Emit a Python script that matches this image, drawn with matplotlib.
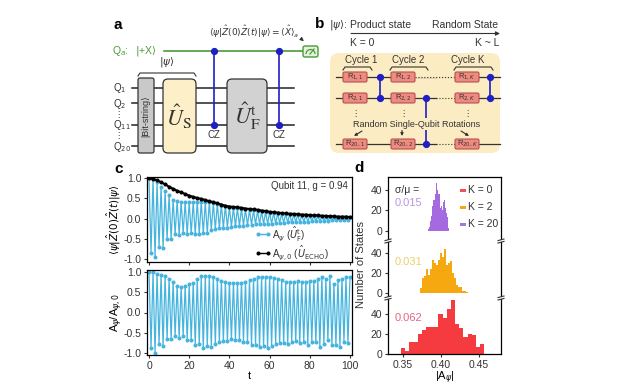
import matplotlib
matplotlib.use('Agg')
import matplotlib.pyplot as plt
from matplotlib.patches import FancyBboxPatch, Rectangle, Arc
import numpy as np

plt.rcParams['font.family'] = ['Liberation Sans', 'DejaVu Sans']
plt.rcParams['mathtext.fontset'] = 'dejavusans'

# panel c, upper: even t (top envelope), odd t (bottom envelope), echo
c_top = [1.0, .97, .9, .78, .68, .58, .47, .44, .42, .41, .41, .41, .42, .42, .41, .41, .39,
         .37, .35, .32, .29, .27, .26, .25, .23, .22, .21, .2, .18, .17, .15, .14, .13, .12,
         .11, .11, .1, .09, .08, .08, .07, .07, .06, .06, .05, .05, .04, .04, .03, .03, .03]
c_bot = [-.84, -.94, -.69, -.73, -.49, -.49, -.38, -.4, -.35, -.38, -.36, -.39, -.37, -.36,
         -.35, -.28, -.26, -.24, -.23, -.22, -.2, -.19, -.18, -.17, -.16, -.15, -.14, -.13,
         -.13, -.12, -.12, -.11, -.1, -.1, -.09, -.09, -.08, -.08, -.07, -.07, -.06, -.06,
         -.05, -.05, -.05, -.04, -.04, -.03, -.03, -.03]
echo = [1.0, .98, .95, .9, .85, .79, .74, .69, .65, .61, .57, .54, .51, .49, .46, .43, .41,
        .38, .35, .32, .3, .29, .28, .27, .25, .24, .23, .22, .2, .19, .17, .16, .15, .14,
        .13, .12, .12, .11, .1, .1, .09, .08, .08, .07, .07, .06, .06, .05, .05, .05, .04]

# panel c, lower: ratio
r_top = [1.0, .99, .96, .93, .9, .83, .76, .66, .64, .66, .7, .74, .82, .89, .9, .9, .87,
         .82, .78, .76, .74, .73, .72, .74, .76, .8, .83, .87, .88, .87, .87, .85, .84, .8,
         .75, .76, .76, .77, .76, .76, .78, .77, .83, .87, .83, .9, .7, .8, .84, .87, .87]
r_bot = [-.88, -1.0, -.78, -.82, -.65, -.66, -.57, -.62, -.58, -.68, -.68, -.8, -.78, -.88,
         -.82, -.85, -.77, -.73, -.7, -.7, -.66, -.68, -.68, -.72, -.73, -.8, -.8, -.85,
         -.83, -.87, -.83, -.78, -.76, -.76, -.78, -.73, -.71, -.76, -.72, -.8, -.72, -.74,
         -.85, -.78, -.68, -.8, -.8, -.85, -.72, -.76]

# panel d histograms
k0_start, k0_width = 0.3474, 0.0055
k0_counts = [6, 3, 12, 12, 20, 24, 27, 27, 27, 40, 36, 45, 54, 30, 26, 17, 20, 19, 7, 10]
k2_start, k2_width = 0.3725, 0.00265
k2_counts = [5, 15, 17, 24, 18, 24, 33, 30, 28, 33, 40, 36, 44, 28, 30, 32, 20, 15, 8, 6, 6, 2, 2, 1]
k20_start, k20_width = 0.3827, 0.00132
k20_counts = [2, 4, 10, 15, 24, 30, 30, 36, 47, 40, 36, 36, 22, 24, 20, 28, 30, 22, 18, 14, 3]

W, H = 640, 392
BLUE = '#45b4de'
NAVY = '#1f1fc4'
GREEN = '#4c9a3c'
DARK = '#333333'

fig = plt.figure(figsize=(6.4, 3.92), dpi=100)


def add_ax(x0, x1, y0, y1, **kw):
    return fig.add_axes([x0 / W, 1 - y1 / H, (x1 - x0) / W, (y1 - y0) / H], **kw)


def alternate(top, bot):
    vals = np.zeros(len(top) + len(bot))
    vals[0::2] = top
    vals[1::2] = bot
    return vals


t_all = np.arange(101)
t_even = np.arange(0, 101, 2)

# panel c
ax1 = add_ax(147, 352, 177, 262)
ax1.plot(t_all, alternate(c_top, c_bot), color=BLUE, lw=0.9, marker='o', ms=1.9)
ax1.plot(t_even, echo, color='black', lw=1.5, marker='o', ms=1.9)
ax1.set_xlim(-1, 101)
ax1.set_ylim(-1.07, 1.03)
ax1.set_xticks(range(0, 101, 20))
ax1.set_xticklabels([])
ax1.set_yticks([-1, -.5, 0, .5, 1])
ax1.set_yticklabels(['-1.0', '-0.5', '0.0', '0.5', '1.0'])
ax1.set_ylabel(r'$\langle\psi|\hat{Z}(0)\hat{Z}(t)|\psi\rangle$', fontsize=7.5, labelpad=0.5)

ax2 = add_ax(147, 352, 270, 355)
ax2.plot(t_all, alternate(r_top, r_bot), color=BLUE, lw=0.9, marker='o', ms=1.9)
ax2.set_xlim(-1, 101)
ax2.set_ylim(-1.05, 1.05)
ax2.set_xticks(range(0, 101, 20))
ax2.set_yticks([-1, -.5, 0, .5, 1])
ax2.set_yticklabels(['-1.0', '-0.5', '0.0', '0.5', '1.0'])
ax2.set_xlabel('t', fontsize=8, labelpad=0)
ax2.set_ylabel(r'A$_{\psi}$/A$_{\psi,0}$', fontsize=8, labelpad=-1)

for ax in (ax1, ax2):
    ax.tick_params(labelsize=7.5, length=2.5, width=0.8, pad=1.5, colors=DARK)
    for s in ax.spines.values():
        s.set_linewidth(0.9)

# panel d, three stacked histograms sharing one x range
xlim_d = (0.3302, 0.4796)
hist_axes = []
for y0, y1, ylim, start, width, counts, col in [
        (177, 241, (-9.8, 52.7), k20_start, k20_width, k20_counts, '#a56ae0'),
        (241, 298, (-5, 52), k2_start, k2_width, k2_counts, '#f5a80f'),
        (298, 354, (0, 56), k0_start, k0_width, k0_counts, '#f53a40')]:
    ax = add_ax(388, 501, y0, y1)
    ax.bar(start + width * np.arange(len(counts)), counts, width=width, align='edge',
           color=col, lw=0)
    ax.set_xlim(*xlim_d)
    ax.set_ylim(*ylim)
    ax.set_yticks([0, 20, 40])
    ax.spines['top'].set_visible(False)
    ax.spines['bottom'].set_visible(False)
    ax.tick_params(labelsize=7.5, length=2.5, width=0.8, pad=1.5, colors=DARK)
    ax.set_xticks([])
    ax.patch.set_alpha(0)
    for s in ax.spines.values():
        s.set_linewidth(0.9)
    hist_axes.append(ax)
hist_axes[0].spines['top'].set_visible(True)
hist_axes[2].spines['bottom'].set_visible(True)
hist_axes[2].set_xticks([.35, .40, .45])
hist_axes[2].set_xticklabels(['0.35', '0.40', '0.45'])
hist_axes[2].set_xlabel(r'|A$_{\psi}$|', fontsize=8, labelpad=0)

# overlay in pixel coordinates for the schematics and annotations
ov = fig.add_axes([0, 0, 1, 1], zorder=10)
ov.set_xlim(0, W)
ov.set_ylim(H, 0)
ov.axis('off')


def txt(x, y, s, size=7.5, color=DARK, ha='center', va='center', **kw):
    ov.text(x, y, s, fontsize=size, color=color, ha=ha, va=va, **kw)


def box(x0, y0, x1, y1, face, edge=DARK, lw=0.9, r=3, z=3):
    ov.add_patch(FancyBboxPatch((x0 + r, y0 + r), x1 - x0 - 2 * r, y1 - y0 - 2 * r,
                                boxstyle=f'round,pad={r},rounding_size={r}',
                                fc=face, ec=edge, lw=lw, zorder=z))


def brace(x0, x1, y, h=3):
    ov.plot([x0, x0 + 2, x1 - 2, x1], [y + h, y, y, y + h], color=DARK, lw=0.8, zorder=4)


def cz(x, y0, y1, col=NAVY):
    ov.plot([x, x], [y0, y1], color=col, lw=1.2, zorder=5)
    ov.plot([x, x], [y0, y1], ls='none', marker='o', ms=4.2, color=col, zorder=6)


# panel labels
txt(118, 25, 'a', size=11, color='black', fontweight='bold')
txt(320, 24, 'b', size=11, color='black', fontweight='bold')
txt(119, 169, 'c', size=11, color='black', fontweight='bold')
txt(359, 168, 'd', size=11, color='black', fontweight='bold')

# panel a
txt(254, 32, r'$\langle\psi|\hat{Z}(0)\hat{Z}(t)|\psi\rangle=\langle\hat{X}\rangle_{a}$', size=6.5)
ov.annotate('', xy=(306, 43), xytext=(299, 37),
            arrowprops=dict(arrowstyle='-|>', color=DARK, lw=0.8, mutation_scale=5))
txt(120, 51, r'Q$_{a}$:', color=GREEN)
txt(146, 51, r'$|$+X$\rangle$', color=GREEN)
ov.plot([164, 304], [51, 51], color=GREEN, lw=1.2, zorder=2)
box(303, 46, 318, 57, '#e4f2dc', edge=GREEN, lw=1.0, r=2)
ov.add_patch(Arc((310.5, 54), 9, 9, theta1=180, theta2=360, color=GREEN, lw=0.9, zorder=5))
ov.plot([310, 314], [54, 49], color=GREEN, lw=0.9, zorder=5)
txt(167, 62, r'$|\psi\rangle$', size=7.5)
brace(138, 196, 73)
for y, lab in [(88, r'Q$_{1}$'), (104, r'Q$_{2}$'), (125, r'Q$_{11}$'), (147, r'Q$_{20}$')]:
    txt(113, y, lab, ha='left', size=7)
for y in [88, 103, 124.5, 146]:
    ov.plot([132, 294], [y, y], color='#222222', lw=1.1, zorder=1)
txt(118, 115, '⋮', size=6)
txt(118, 136, '⋮', size=6)
box(138, 78, 154, 153, '#c9c9c9', r=2)
txt(146, 116, '|Bit-string⟩', size=6.5, rotation=90, zorder=6)
box(163, 79, 196, 153, '#fdf0c8', r=5)
txt(179, 117, r'$\hat{U}_{\mathrm{S}}$', size=16, zorder=6, math_fontfamily='stix')
box(227, 79, 267, 153, '#d2d2d2', r=5)
txt(247, 116, r'$\hat{U}_{\mathrm{F}}^{\mathrm{t}}$', size=16, zorder=6, math_fontfamily='stix')
cz(214, 51, 124.5)
cz(279, 51, 124.5)
txt(214, 135, 'CZ', size=7)
txt(279, 135, 'CZ', size=7)

# panel b
txt(338, 25, r'$|\psi\rangle$:', size=7.5)
txt(350, 25, 'Product state', ha='left', size=7.5)
txt(498, 25, 'Random State', ha='right', size=7.5)
ov.annotate('', xy=(500, 33.5), xytext=(351, 33.5),
            arrowprops=dict(arrowstyle='-|>', color=DARK, lw=0.8, mutation_scale=6, shrinkA=0, shrinkB=0))
txt(362, 43, 'K = 0', size=7.5)
txt(487, 43, 'K ~ L', size=7.5)
box(330, 53, 500, 153, '#fcecc4', edge='none', lw=0, r=9, z=0)
for x, lab in [(361, 'Cycle 1'), (408, 'Cycle 2'), (468, 'Cycle K')]:
    txt(x, 60, lab, size=7)
brace(343, 372, 67)
brace(390, 428, 67)
brace(454, 493, 67)
for y in [77, 98, 144]:
    ov.plot([336, 436], [y, y], color=DARK, lw=0.9, zorder=1)
    ov.plot([436, 455], [y, y], color=DARK, lw=0.8, ls=':', zorder=1)
    ov.plot([455, 500], [y, y], color=DARK, lw=0.9, zorder=1)
# blank the dotted stretch in the first row after R_1,2
ov.plot([415, 455], [77, 77], color='#fcecc4', lw=1.4, zorder=1.5)
ov.plot([415, 455], [77, 77], color=DARK, lw=0.8, ls=':', zorder=1.6)
for x, k in [(343, '1'), (391, '2'), (455, 'K')]:
    for y, q in [(77, '1'), (98, '2'), (144, '20')]:
        box(x, y - 5, x + 24, y + 5, '#ef8a80', edge='#b5524c', lw=0.8, r=1.5)
        txt(x + 12, y, f'R$_{{{q},{k}}}$', size=5.5, zorder=6)
    txt(x + 12, 114, '⋮', size=6)
cz(380, 77, 98)
cz(490, 77, 98)
cz(425.5, 98, 144)
ov.add_patch(Rectangle((336, 118), 160, 12, fc='#fcecc4', ec='none', zorder=5.5))
txt(417, 124, 'Random Single-Qubit Rotations', size=6.5, zorder=7)
for start_xy, end_xy in [((362, 131), (354, 136)), ((402, 130), (402, 136)), ((461, 131), (469, 136))]:
    ov.annotate('', xy=end_xy, xytext=start_xy,
                arrowprops=dict(arrowstyle='-|>', color=DARK, lw=0.8, mutation_scale=4, shrinkA=0, shrinkB=0))

# panel c text and legend
txt(348, 186, 'Qubit 11, g = 0.94', ha='right', size=7)
ov.plot([258, 268], [234, 234], color=BLUE, lw=1, marker='o', ms=1.9)
ov.plot([258, 268], [253, 253], color='black', lw=1, marker='o', ms=1.9)
txt(272, 234, r'A$_{\psi}$ ($\hat{U}_{\mathrm{F}}^{\mathrm{t}}$)', ha='left', size=7)
txt(272, 253, r'A$_{\psi,0}$ ($\hat{U}_{\mathrm{ECHO}}$)', ha='left', size=7)

# panel d text, legend and axis breaks
txt(395, 190, 'σ/μ =', ha='left', size=7.5)
txt(395, 203, '0.015', ha='left', size=8, color='#bb94e2')
txt(395, 262, '0.031', ha='left', size=8, color='#ead070')
txt(395, 318, '0.062', ha='left', size=8, color='#e2687e')
for y, col, lab in [(190, '#f0505a', 'K = 0'), (207, '#f5a80f', 'K = 2'), (224, '#9a78dc', 'K = 20')]:
    ov.add_patch(Rectangle((460, y - 1.5), 5.5, 3, fc=col, ec='none'))
    txt(468, y, lab, ha='left', size=7.5)
txt(361, 265, 'Number of States', size=8, rotation=90)
for x in (388, 501):
    for y in (241, 298):
        ov.add_patch(Rectangle((x - 4, y - 1.2), 8, 2.4, fc='white', ec='none', zorder=6))
        for dy in (-1.2, 1.2):
            ov.plot([x - 3, x + 3], [y + dy + 0.8, y + dy - 0.8], color=DARK, lw=0.8, zorder=7)

fig.savefig('out.png', dpi=100)
